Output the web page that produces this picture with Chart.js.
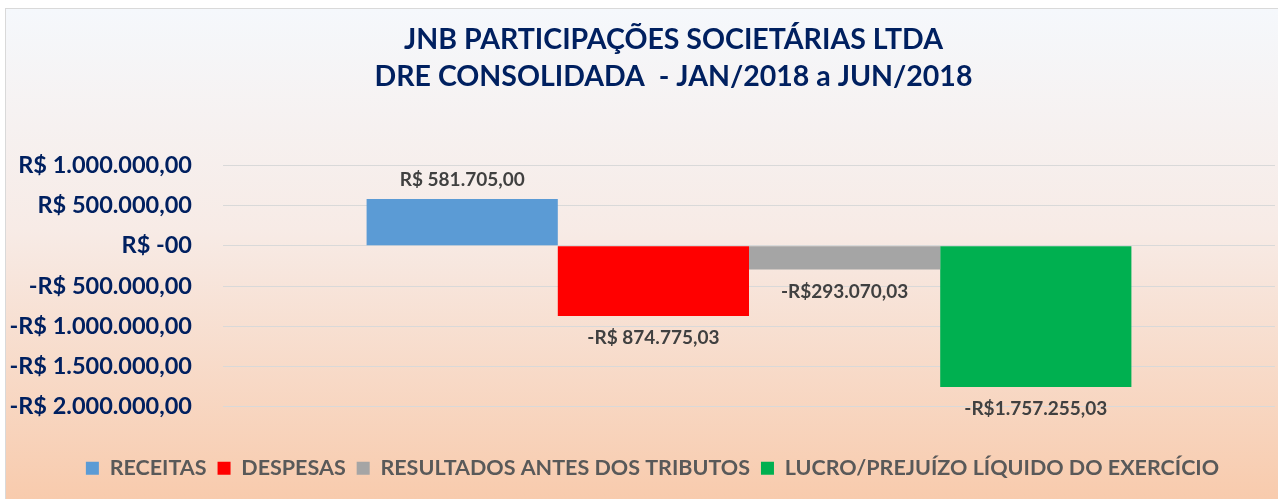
<!DOCTYPE html>
<html>
<head>
<meta charset="utf-8">
<script src="https://cdn.jsdelivr.net/npm/chart.js@4"></script>
<style>
  html, body { margin: 0; padding: 0; background: #ffffff; }
  #wrap {
    position: absolute; left: 5px; top: 8px;
    width: 1272px; height: 490px;
    border-left: 1px solid #d9d9d9; border-top: 1px solid #d9d9d9;
    background: linear-gradient(to bottom, #f5f8fc 0%, #f7ebe6 45%, #f8cbad 100%);
  }
</style>
</head>
<body>
<div id="wrap"><canvas id="c"></canvas></div>
<script>
const categories = [''];
const seriesNames = ['RECEITAS', 'DESPESAS', 'RESULTADOS ANTES DOS TRIBUTOS', 'LUCRO/PREJUÍZO LÍQUIDO DO EXERCÍCIO'];
const seriesValues = [581705.00, -874775.03, -293070.03, -1757255.03];
const dataLabels = ['R$ 581.705,00', '-R$ 874.775,03', '-R$293.070,03', '-R$1.757.255,03'];
const seriesColors = ['#5b9bd5', '#ff0000', '#a5a5a5', '#00b050'];
const yTickValues = [1000000, 500000, 0, -500000, -1000000, -1500000, -2000000];
const yTickLabels = ['R$ 1.000.000,00', 'R$ 500.000,00', 'R$ -00', '-R$ 500.000,00', '-R$ 1.000.000,00', '-R$ 1.500.000,00', '-R$ 2.000.000,00'];
const titleLines = ['JNB PARTICIPAÇÕES SOCIETÁRIAS LTDA', 'DRE CONSOLIDADA  - JAN/2018 a JUN/2018'];

const FONT = "Lato, 'Noto Sans', sans-serif";

const labelPlugin = {
  id: 'barLabels',
  afterDatasetsDraw(chart) {
    const ctx = chart.ctx;
    ctx.save();
    ctx.font = "bold 19px " + FONT;
    ctx.fillStyle = '#404040';
    ctx.textAlign = 'center';
    ctx.textBaseline = 'middle';
    chart.data.datasets.forEach((ds, i) => {
      const meta = chart.getDatasetMeta(i);
      const el = meta.data[0];
      const v = ds.data[0];
      const y = v >= 0 ? el.y - 19 : el.y + 22;
      ctx.fillText(dataLabels[i], el.x, y);
    });
    ctx.restore();
  }
};

// Shift title and legend horizontally to match the reference's off-centre placement
const shiftPlugin = {
  id: 'shiftBoxes',
  afterLayout(chart) {
    if (chart.titleBlock) { chart.titleBlock.left += 33; chart.titleBlock.right += 33; }
    if (chart.legend) { chart.legend.left += 12; chart.legend.right += 12; }
  }
};

new Chart(document.getElementById('c'), {
  type: 'bar',
  data: {
    labels: categories,
    datasets: seriesNames.map((n, i) => ({
      label: n,
      data: [seriesValues[i]],
      backgroundColor: seriesColors[i],
      borderWidth: 0
    }))
  },
  options: {
    responsive: true,
    maintainAspectRatio: false,
    animation: false,
    categoryPercentage: 0.727,
    barPercentage: 1.0,
    layout: { padding: { left: 0, right: 3, top: 0, bottom: 10 } },
    plugins: {
      title: {
        display: true,
        text: titleLines,
        color: '#002060',
        font: { family: FONT, size: 28.5, weight: 'bold', lineHeight: 37 / 28.5 },
        padding: { top: 12.5, bottom: 70 }
      },
      legend: {
        position: 'bottom',
        labels: {
          color: '#595959',
          font: { family: FONT, size: 21.5, weight: 'bold' },
          boxWidth: 13, boxHeight: 13,
          padding: 11
        }
      },
      tooltip: { enabled: false }
    },
    scales: {
      x: {
        display: true,
        grid: { display: false },
        border: { display: false },
        ticks: { display: false },
        afterFit(s) { s.height = 40; }
      },
      y: {
        min: -2000000, max: 1000000,
        afterFit(s) { s.width = 217; },
        afterBuildTicks(s) { s.ticks = yTickValues.map(v => ({ value: v })); },
        grid: { color: '#d9d9d9', lineWidth: 1, drawTicks: false },
        border: { display: false },
        ticks: {
          color: '#002060',
          font: { family: FONT, size: 23.5, weight: 'bold' },
          padding: 31,
          callback(v) { const k = yTickValues.indexOf(v); return k >= 0 ? yTickLabels[k] : ''; }
        }
      }
    }
  },
  plugins: [labelPlugin, shiftPlugin]
});
</script>
</body>
</html>
